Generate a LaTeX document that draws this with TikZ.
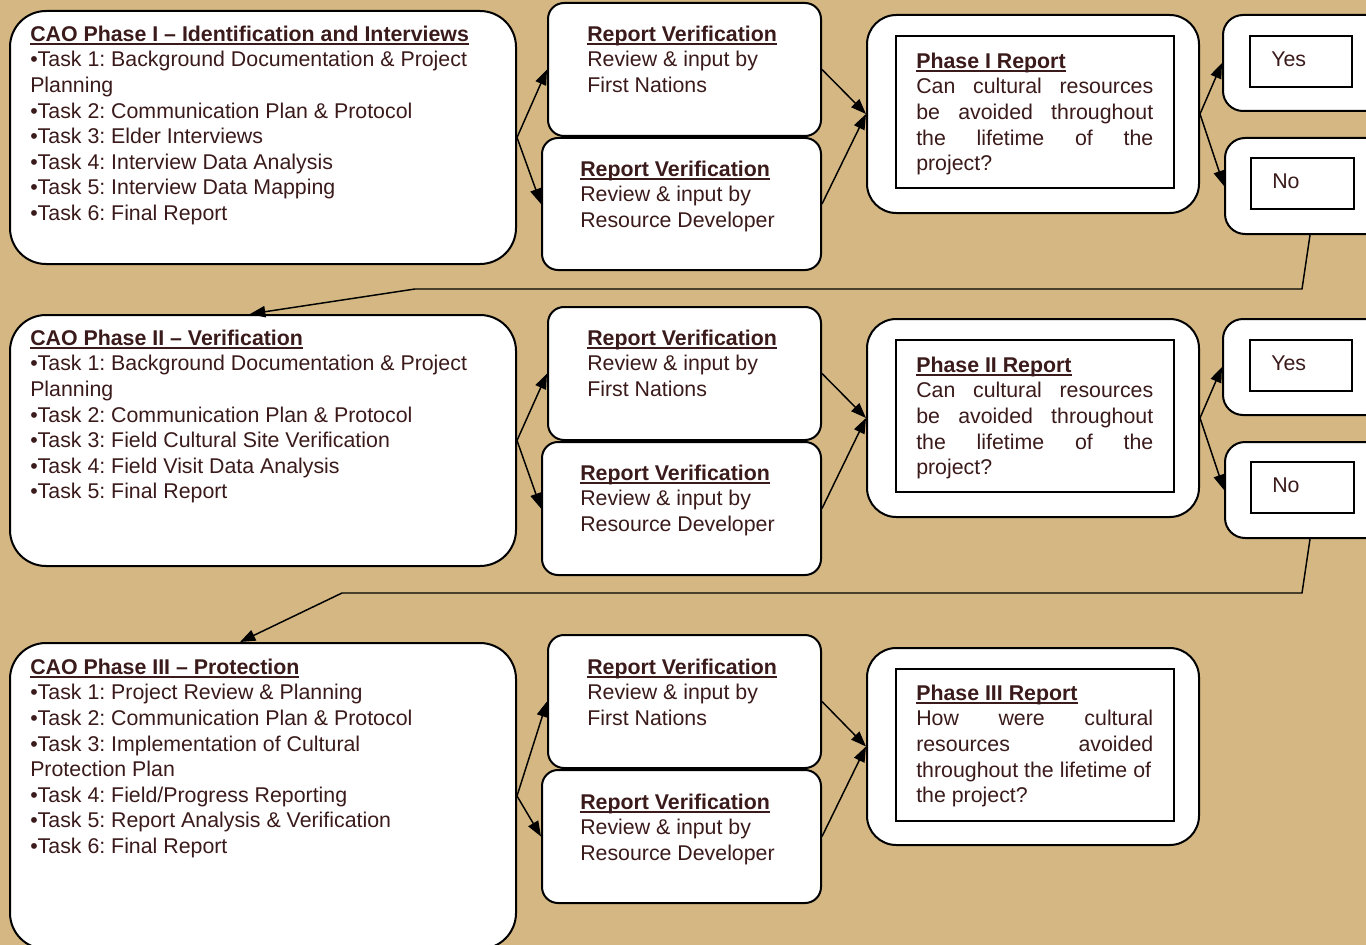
\documentclass[tikz,border=0pt]{standalone}
\usepackage{fontspec}
\setmainfont{Liberation Sans}
\usepackage{xcolor}
\usetikzlibrary{arrows.meta,positioning,fit,calc}

\definecolor{tan}{RGB}{212,183,131}
\definecolor{ink}{RGB}{58,26,26}
\newcommand{\hdr}[1]{\sbox0{\textbf{#1}}\rlap{\usebox0}\rule[-2.6pt]{\wd0}{1.4pt}}
\newcommand{\jline}[1]{\makebox[177.75pt][s]{#1}}

\begin{document}
\begin{tikzpicture}[x=0.75pt, y=-0.75pt,
    phasebox/.style={draw, fill=white, line width=1.5pt, rounded corners=27pt, inner sep=0pt},
    verbox/.style={draw, fill=white, line width=1.5pt, rounded corners=12pt, inner sep=0pt},
    reportbox/.style={draw, fill=white, line width=1.5pt, rounded corners=22pt, inner sep=0pt},
    answerbox/.style={draw, fill=white, line width=1.5pt, rounded corners=15pt, inner sep=0pt},
    innerbox/.style={draw, line width=1.5pt, inner sep=0pt},
    txt/.style={anchor=north west, align=left, inner sep=0pt, text=ink, font=\fontsize{16}{19.2}\selectfont\frenchspacing},
    arrow/.style={-{Triangle[length=11.5pt,width=8.5pt]}, line width=1.1pt}
]
    \useasboundingbox (0,0) rectangle (1366,945);
    \clip (0,0) rectangle (1366,945);
    \fill[tan] (0,0) rectangle (1366,945);

    % Phase I
    \node[phasebox, fit={(10,11) (516,264)}] (ph1) {};
    \node[verbox, fit={(548,3) (821,136)}] (fn1) {};
    \node[verbox, fit={(542,138) (821,270)}] (rd1) {};
    \node[reportbox, fit={(867,15) (1199,213)}] (rep1) {};
    \node[innerbox, fit={(896,36) (1174,188)}] (rep1in) {};
    \node[answerbox, fit={(1223,15) (1395,111)}] (yes1) {};
    \node[innerbox, fit={(1250,36) (1352,87)}] (yes1in) {};
    \node[answerbox, fit={(1225,138) (1395,234)}] (no1) {};
    \node[innerbox, fit={(1251,158) (1354,209)}] (no1in) {};

    \node[txt] (ph1txt) at (30,25.5) {\hdr{CAO Phase I -- Identification and Interviews}\\
        •Task 1: Background Documentation \& Project\\ Planning\\
        •Task 2: Communication Plan \& Protocol\\ •Task 3: Elder Interviews\\
        •Task 4: Interview Data Analysis\\ •Task 5: Interview Data Mapping\\ •Task 6: Final Report};
    \node[txt] (fn1txt) at (587,25.5) {\hdr{Report Verification}\\ Review \& input by\\ First Nations};
    \node[txt] (rd1txt) at (580,160.5) {\hdr{Report Verification}\\ Review \& input by\\ Resource Developer};
    \node[txt] (rep1txt) at (916,52.5) {\hdr{Phase I Report}\\ \jline{Can cultural resources}\\
        \jline{be avoided throughout}\\ \jline{the lifetime of the}\\ project?};
    \node[txt] (yes1txt) at (1271,51.5) {Yes};
    \node[txt] (no1txt) at (1272,173.5) {No};

    % Phase II
    \node[phasebox, fit={(10,315) (516,566)}] (ph2) {};
    \node[verbox, fit={(548,307) (821,440)}] (fn2) {};
    \node[verbox, fit={(542,442) (821,575)}] (rd2) {};
    \node[reportbox, fit={(867,319) (1199,517)}] (rep2) {};
    \node[innerbox, fit={(896,340) (1174,492)}] (rep2in) {};
    \node[answerbox, fit={(1223,319) (1395,415)}] (yes2) {};
    \node[innerbox, fit={(1250,340) (1352,391)}] (yes2in) {};
    \node[answerbox, fit={(1225,442) (1395,538)}] (no2) {};
    \node[innerbox, fit={(1251,462) (1354,513)}] (no2in) {};

    \node[txt] (ph2txt) at (30,329.5) {\hdr{CAO Phase II -- Verification}\\
        •Task 1: Background Documentation \& Project\\ Planning\\
        •Task 2: Communication Plan \& Protocol\\ •Task 3: Field Cultural Site Verification\\
        •Task 4: Field Visit Data Analysis\\ •Task 5: Final Report};
    \node[txt] (fn2txt) at (587,329.5) {\hdr{Report Verification}\\ Review \& input by\\ First Nations};
    \node[txt] (rd2txt) at (580,464.5) {\hdr{Report Verification}\\ Review \& input by\\ Resource Developer};
    \node[txt] (rep2txt) at (916,356.5) {\hdr{Phase II Report}\\ \jline{Can cultural resources}\\
        \jline{be avoided throughout}\\ \jline{the lifetime of the}\\ project?};
    \node[txt] (yes2txt) at (1271,355.5) {Yes};
    \node[txt] (no2txt) at (1272,477.5) {No};

    % Phase III
    \node[phasebox, fit={(10,643) (516,949)}] (ph3) {};
    \node[verbox, fit={(548,635) (821,768)}] (fn3) {};
    \node[verbox, fit={(542,770) (821,903)}] (rd3) {};
    \node[reportbox, fit={(867,648) (1199,845)}] (rep3) {};
    \node[innerbox, fit={(896,669) (1174,821)}] (rep3in) {};

    \node[txt] (ph3txt) at (30,658.5) {\hdr{CAO Phase III -- Protection}\\
        •Task 1: Project Review \& Planning\\ •Task 2: Communication Plan \& Protocol\\
        •Task 3: Implementation of Cultural\\ Protection Plan\\
        •Task 4: Field/Progress Reporting\\ •Task 5: Report Analysis \& Verification\\ •Task 6: Final Report};
    \node[txt] (fn3txt) at (587,658.5) {\hdr{Report Verification}\\ Review \& input by\\ First Nations};
    \node[txt] (rd3txt) at (580,793.5) {\hdr{Report Verification}\\ Review \& input by\\ Resource Developer};
    \node[txt] (rep3txt) at (916,684.5) {\hdr{Phase III Report}\\ \jline{How were cultural}\\
        \jline{resources avoided}\\ throughout the lifetime of\\ the project?};

    % connectors
    \draw[arrow] (ph1.east) -- (fn1.west);
    \draw[arrow] (ph1.east) -- (rd1.west);
    \draw[arrow] (fn1.east) -- (rep1.west);
    \draw[arrow] (rd1.east) -- (rep1.west);
    \draw[arrow] (rep1.east) -- (yes1.west);
    \draw[arrow] (rep1.east) -- (no1.west);

    \draw[arrow] (ph2.east) -- (fn2.west);
    \draw[arrow] (ph2.east) -- (rd2.west);
    \draw[arrow] (fn2.east) -- (rep2.west);
    \draw[arrow] (rd2.east) -- (rep2.west);
    \draw[arrow] (rep2.east) -- (yes2.west);
    \draw[arrow] (rep2.east) -- (no2.west);

    \draw[arrow] (ph3.east) -- (fn3.west);
    \draw[arrow] (ph3.east) -- (rd3.west);
    \draw[arrow] (fn3.east) -- (rep3.west);
    \draw[arrow] (rd3.east) -- (rep3.west);

    % "No" loops back to the next phase
    \coordinate (back1a) at (1302,289);
    \coordinate (back1b) at (415,289);
    \coordinate (back2a) at (1302,593);
    \coordinate (back2b) at (342,593);
    \draw[arrow] (no1.south) -- (back1a) -- (back1b) -- ($(ph2.north)+(-13,0)$);
    \draw[arrow] (no2.south) -- (back2a) -- (back2b) -- ($(ph3.north)+(-23,0)$);
\end{tikzpicture}
\end{document}
